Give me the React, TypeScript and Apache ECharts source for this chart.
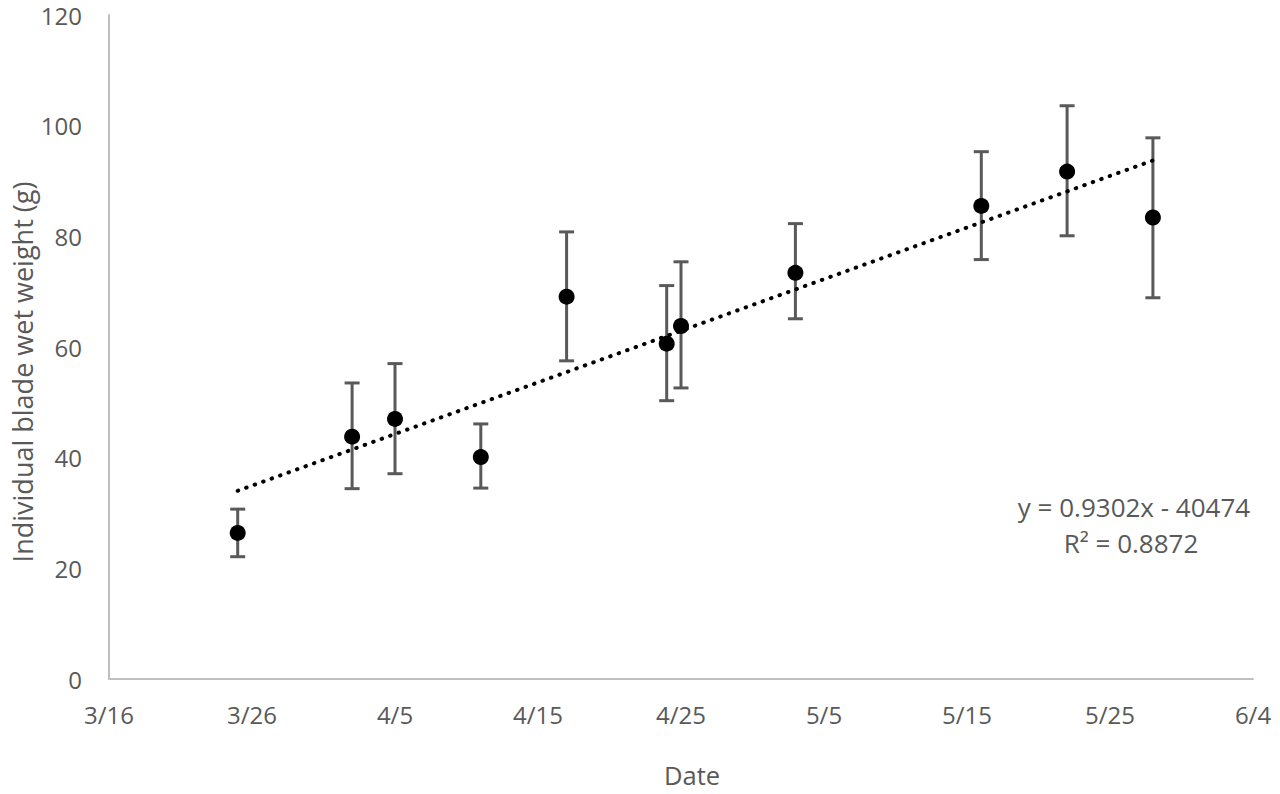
import React, { useEffect, useRef } from "react";
import * as echarts from "echarts";

const dates = [
  "2019-03-25", "2019-04-02", "2019-04-05", "2019-04-11", "2019-04-17", "2019-04-24",
  "2019-04-25", "2019-05-03", "2019-05-16", "2019-05-22", "2019-05-28",
];
const means = [26.4, 43.8, 47.0, 40.1, 69.1, 60.6, 63.8, 73.4, 85.5, 91.7, 83.4];
const lows = [22.1, 34.4, 37.1, 34.5, 57.5, 50.3, 52.6, 65.1, 75.8, 80.1, 68.9];
const highs = [30.7, 53.5, 57.0, 46.1, 80.8, 71.1, 75.4, 82.3, 95.3, 103.6, 97.8];
const xTickLabels = ["3/16", "3/26", "4/5", "4/15", "4/25", "5/5", "5/15", "5/25", "6/4"];
const startDate = "2019-03-16";
const equationText = "y = 0.9302x - 40474";
const r2Text = "R² = 0.8872";

const FONT = "'Open Sans', 'Noto Sans', sans-serif";

function toDay(s: string): number {
  const [y, m, d] = s.split("-").map(Number);
  const [y0, m0, d0] = startDate.split("-").map(Number);
  return (Date.UTC(y, m - 1, d) - Date.UTC(y0, m0 - 1, d0)) / 86400000;
}

export default function App() {
  const ref = useRef<HTMLDivElement>(null);
  useEffect(() => {
    if (!ref.current) return;
    const chart = echarts.init(ref.current, undefined, { renderer: "svg" });
    const days = dates.map(toDay);
    const n = days.length;
    const mx = days.reduce((a, b) => a + b, 0) / n;
    const my = means.reduce((a, b) => a + b, 0) / n;
    let sxy = 0, sxx = 0;
    for (let i = 0; i < n; i++) {
      sxy += (days[i] - mx) * (means[i] - my);
      sxx += (days[i] - mx) * (days[i] - mx);
    }
    const slope = sxy / sxx;
    const intercept = my - slope * mx;
    const x0 = Math.min(...days);
    const x1 = Math.max(...days);
    const trend = [
      [x0, intercept + slope * x0],
      [x1, intercept + slope * x1],
    ];

    chart.setOption({
      animation: false,
      backgroundColor: "#ffffff",
      grid: { left: 109, right: 27, top: 15, bottom: 115, containLabel: false },
      xAxis: {
        type: "value",
        min: 0,
        max: 80,
        interval: 10,
        axisLine: { show: true, lineStyle: { color: "#BFBFBF", width: 2 } },
        axisTick: { show: false },
        splitLine: { show: false },
        axisLabel: {
          color: "#595959",
          fontSize: 24,
          fontFamily: FONT,
          margin: 23,
          formatter: (v: number) => xTickLabels[Math.round(v / 10)] ?? "",
        },
      },
      yAxis: {
        type: "value",
        min: 0,
        max: 120,
        interval: 20,
        axisLine: { show: true, lineStyle: { color: "#BFBFBF", width: 2 } },
        axisTick: { show: false },
        splitLine: { show: false },
        axisLabel: { color: "#595959", fontSize: 24, fontFamily: FONT, margin: 27 },
      },
      graphic: [
        {
          type: "text",
          x: 692,
          y: 775,
          style: {
            text: "Date",
            fill: "#595959",
            fontSize: 25.5,
            fontFamily: FONT,
            textAlign: "center",
            textVerticalAlign: "middle",
          },
        },
        {
          type: "text",
          x: 22,
          y: 372,
          rotation: Math.PI / 2,
          style: {
            text: "Individual blade wet weight (g)",
            fill: "#595959",
            fontSize: 27,
            fontFamily: FONT,
            textAlign: "center",
            textVerticalAlign: "middle",
          },
        },
        {
          type: "text",
          x: 1134,
          y: 507,
          style: {
            text: equationText,
            fill: "#595959",
            fontSize: 26,
            fontFamily: FONT,
            textAlign: "center",
            textVerticalAlign: "middle",
          },
        },
        {
          type: "text",
          x: 1131,
          y: 543,
          style: {
            text: r2Text,
            fill: "#595959",
            fontSize: 26,
            fontFamily: FONT,
            textAlign: "center",
            textVerticalAlign: "middle",
          },
        },
      ],
      series: [
        {
          type: "custom",
          name: "error",
          z: 2,
          data: days.map((d, i) => [d, lows[i], highs[i]]),
          renderItem: (_p: any, api: any) => {
            const x = api.value(0);
            const lo = api.coord([x, api.value(1)]);
            const hi = api.coord([x, api.value(2)]);
            const w = 7.5;
            const st = { stroke: "#595959", lineWidth: 3 };
            return {
              type: "group",
              children: [
                { type: "line", shape: { x1: lo[0], y1: lo[1], x2: hi[0], y2: hi[1] }, style: st },
                { type: "line", shape: { x1: lo[0] - w, y1: lo[1], x2: lo[0] + w, y2: lo[1] }, style: st },
                { type: "line", shape: { x1: hi[0] - w, y1: hi[1], x2: hi[0] + w, y2: hi[1] }, style: st },
              ],
            };
          },
        },
        {
          type: "line",
          name: "trend",
          z: 3,
          data: trend,
          symbol: "none",
          lineStyle: { color: "#000000", width: 4, type: [0.5, 8.5], cap: "round" },
        },
        {
          type: "scatter",
          name: "weight",
          z: 4,
          data: days.map((d, i) => [d, means[i]]),
          symbol: "circle",
          symbolSize: 16,
          itemStyle: { color: "#000000", opacity: 1 },
        },
      ],
    });
    return () => chart.dispose();
  }, []);
  return (
    <div
      ref={ref}
      style={{ position: "fixed", left: 0, top: 0, width: 1280, height: 794, background: "#fff" }}
    />
  );
}
